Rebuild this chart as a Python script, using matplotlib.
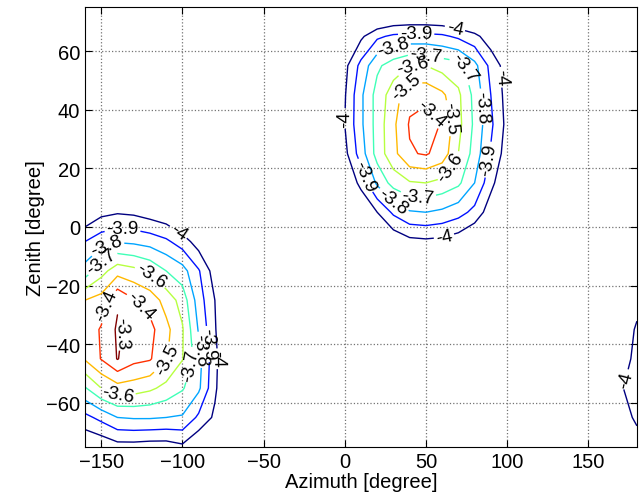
import numpy as np
import matplotlib
matplotlib.use('Agg')
import matplotlib.pyplot as plt

plt.rcParams['font.family'] = ['Liberation Sans', 'DejaVu Sans']

# grid of the map (degrees)
azimuth = np.arange(-160, 181, 10)
zenith = np.arange(-75, 76, 10)
background = -4.3

# contour levels shown in the chart
levels = [-4.0, -3.9, -3.8, -3.7, -3.6, -3.5, -3.4, -3.3]

# upper lobe: azimuth -10..110, zenith -15..75 (rows bottom -> top)
upper_az = [-10, 0, 10, 20, 30, 40, 50, 60, 70, 80, 90, 100, 110]
upper_zen = [-15, -5, 5, 15, 25, 35, 45, 55, 65, 75]
upper_vals = [
    [-4.30, -4.30, -4.30, -4.30, -4.30, -4.30, -4.30, -4.30, -4.30, -4.30, -4.30, -4.30, -4.30],
    [-4.30, -4.28, -4.25, -4.18, -4.08, -4.03, -4.02, -4.03, -4.06, -4.12, -4.20, -4.25, -4.30],
    [-4.25, -4.20, -4.10, -4.00, -3.88, -3.81, -3.80, -3.82, -3.86, -3.93, -4.06, -4.15, -4.22],
    [-4.20, -4.10, -3.97, -3.78, -3.66, -3.61, -3.60, -3.63, -3.68, -3.80, -3.97, -4.10, -4.20],
    [-4.15, -4.03, -3.85, -3.66, -3.53, -3.41, -3.39, -3.44, -3.60, -3.74, -3.91, -4.05, -4.15],
    [-4.15, -4.00, -3.82, -3.66, -3.52, -3.39, -3.35, -3.41, -3.57, -3.72, -3.88, -4.03, -4.15],
    [-4.15, -4.01, -3.82, -3.66, -3.55, -3.43, -3.43, -3.48, -3.58, -3.73, -3.90, -4.04, -4.15],
    [-4.15, -4.03, -3.87, -3.72, -3.65, -3.60, -3.60, -3.64, -3.66, -3.77, -3.93, -4.05, -4.15],
    [-4.25, -4.12, -4.02, -3.92, -3.88, -3.87, -3.87, -3.88, -3.92, -3.97, -4.06, -4.15, -4.25],
    [-4.35, -4.32, -4.28, -4.24, -4.21, -4.20, -4.20, -4.21, -4.23, -4.26, -4.30, -4.33, -4.35],
]

# lower-left lobe: azimuth -160..-70, zenith -75..15
lower_az = [-160, -150, -140, -130, -120, -110, -100, -90, -80, -70]
lower_zen = [-75, -65, -55, -45, -35, -25, -15, -5, 5, 15]
lower_vals = [
    [-4.10, -4.08, -4.04, -4.04, -4.05, -4.05, -4.02, -4.10, -4.15, -4.25],
    [-3.93, -3.87, -3.80, -3.79, -3.79, -3.80, -3.81, -3.92, -4.02, -4.20],
    [-3.71, -3.60, -3.54, -3.55, -3.58, -3.63, -3.69, -3.78, -3.98, -4.15],
    [-3.49, -3.395, -3.295, -3.37, -3.39, -3.49, -3.595, -3.76, -3.97, -4.15],
    [-3.46, -3.39, -3.285, -3.34, -3.37, -3.47, -3.59, -3.81, -3.99, -4.15],
    [-3.50, -3.46, -3.315, -3.39, -3.44, -3.54, -3.64, -3.85, -4.00, -4.15],
    [-3.76, -3.64, -3.54, -3.57, -3.62, -3.70, -3.76, -3.89, -4.05, -4.20],
    [-3.90, -3.84, -3.81, -3.82, -3.84, -3.88, -3.95, -4.05, -4.15, -4.25],
    [-4.10, -4.03, -4.01, -4.02, -4.05, -4.08, -4.15, -4.22, -4.30, -4.35],
    [-4.25, -4.20, -4.20, -4.20, -4.22, -4.25, -4.30, -4.35, -4.40, -4.40],
]

# wrap-around edge at azimuth 170..180, zenith -75..-25
edge_az = [170, 180]
edge_zen = [-75, -65, -55, -45, -35, -25]
edge_vals = [
    [-4.12, -4.05],
    [-4.05, -3.98],
    [-4.01, -3.95],
    [-4.05, -3.97],
    [-4.10, -3.98],
    [-4.18, -4.05],
]

# where the contour labels sit (azimuth, zenith)
label_spots = [
    (44, 66), (68, 68), (30, 61), (50, 58.5), (42, 54), (37, 48), (71, 54),
    (95, 51), (85, 41), (0, 37), (49, 37), (64, 37), (88, 23), (66, 20),
    (10, 17), (30, 9), (45, 9), (61, -3),
    (-97, 3), (-137, -1), (-147, -6), (-151, -11), (-120, -17), (-146, -27),
    (-126, -27), (-138, -36), (-110, -45), (-140, -58),
    (-95, -47), (-90, -42), (-85, -40), (-79, -45), (173, -52),
]

Z = np.full((len(zenith), len(azimuth)), background)
for az, zen, vals in [(upper_az, upper_zen, upper_vals),
                      (lower_az, lower_zen, lower_vals),
                      (edge_az, edge_zen, edge_vals)]:
    for i, zv in enumerate(zen):
        for j, av in enumerate(az):
            Z[list(zenith).index(zv), list(azimuth).index(av)] = vals[i][j]

fig = plt.figure(figsize=(6.44, 5.02), dpi=100)
ax = fig.add_axes([0.132, 0.108, 0.857, 0.876])

cs = ax.contour(azimuth, zenith, Z, levels=levels, cmap='jet', linewidths=1.0)
ax.clabel(cs, fmt=lambda v: '%g' % round(v, 1), fontsize=13.5, inline=True,
          inline_spacing=2, colors='black', manual=label_spots)

ax.set_xlim(-160, 180)
ax.set_ylim(-75, 75)
ax.set_xticks([-150, -100, -50, 0, 50, 100, 150])
ax.set_yticks([-60, -40, -20, 0, 20, 40, 60])
ax.grid(True, linestyle=':', color='0.45', linewidth=0.9)
ax.tick_params(direction='in', top=True, right=True, labelsize=14.5, length=5)
ax.set_xlabel('Azimuth [degree]', fontsize=14.5, labelpad=1)
ax.set_ylabel('Zenith [degree]', fontsize=14.5, labelpad=1)

fig.savefig('out.png', dpi=100)
